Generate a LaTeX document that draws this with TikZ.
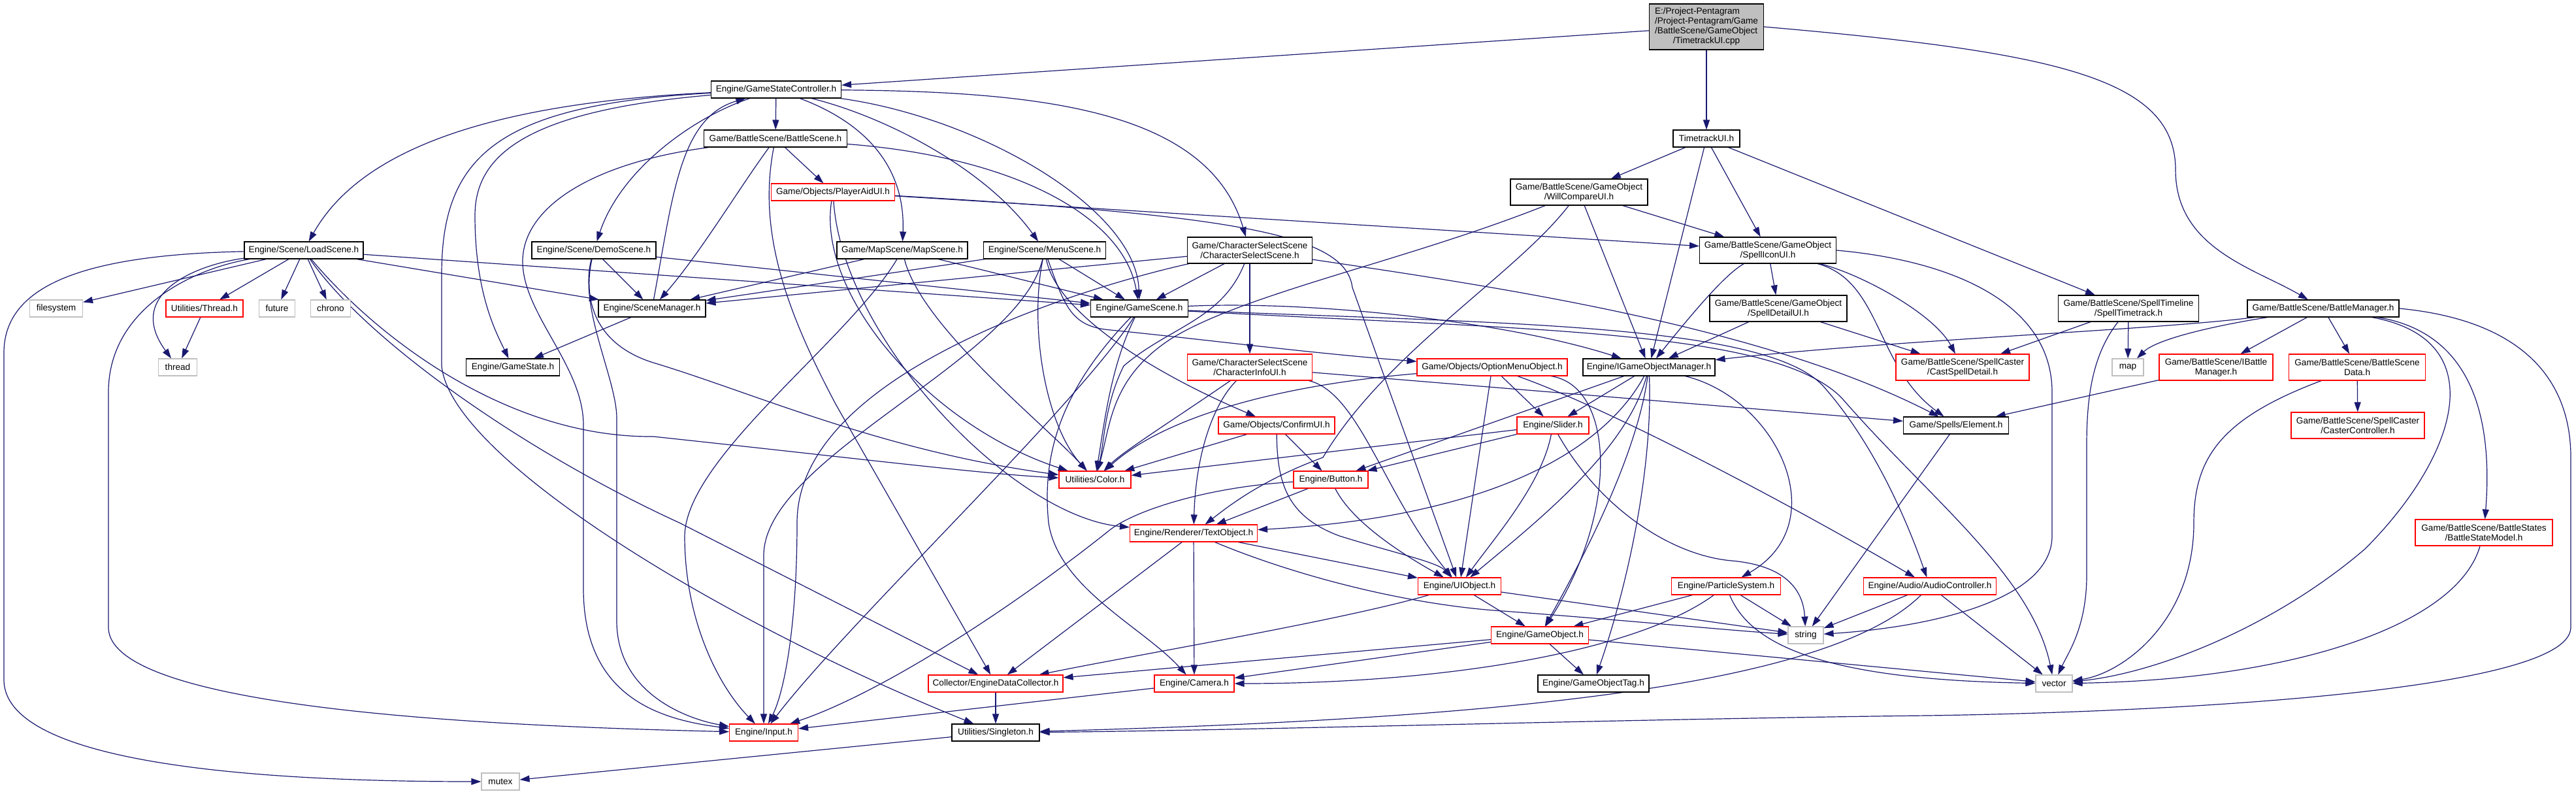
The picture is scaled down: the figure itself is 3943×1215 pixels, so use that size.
\documentclass[tikz,border=0pt]{standalone}
\usepackage{fontspec}
\setmainfont{Liberation Sans}
\usetikzlibrary{arrows.meta}
\pgfdeclarelayer{bg}
\pgfsetlayers{bg,main}
\definecolor{edgec}{HTML}{191970}
\definecolor{rootf}{HTML}{BFBFBF}
\definecolor{grayb}{HTML}{BFBFBF}
\definecolor{redb}{HTML}{FF0000}
\newcommand{\nfont}{\fontsize{13.6}{15}\selectfont}
\begin{document}
\begin{tikzpicture}[x=1pt,y=-1pt,
  blk/.style={draw=black,line width=1.1pt,fill=white,inner sep=0pt,minimum height=26pt,font=\nfont,align=center,text=black},
  rdn/.style={blk,draw=redb},
  gyn/.style={blk,draw=grayb},
  dep/.style={draw=edgec,line width=1.2pt,-{Triangle[length=15pt,width=10pt]}}]
\useasboundingbox (0,0) rectangle (3943,1215);
% ---------------- nodes
\node[blk,fill=rootf,minimum width=175pt,minimum height=70pt] (root) at (2612,41) {\begin{tabular}{@{}l@{}}E:/Project-Pentagram\\/Project-Pentagram/Game\\/BattleScene/GameObject\\\multicolumn{1}{@{}c@{}}{/TimetrackUI.cpp}\end{tabular}};
\node[blk,minimum width=102pt] (tui) at (2612,212) {TimetrackUI.h};
\node[blk,minimum width=210pt,minimum height=40pt] (wcu) at (2417,294) {Game/BattleScene/GameObject\\/WillCompareUI.h};
\node[blk,minimum width=209pt,minimum height=40pt] (siu) at (2706,383) {Game/BattleScene/GameObject\\/SpellIconUI.h};
\node[blk,minimum width=199pt] (gsc) at (1188,137) {Engine/GameStateController.h};
\node[blk,minimum width=219pt] (bs) at (1187,212) {Game/BattleScene/BattleScene.h};
\node[rdn,minimum width=189pt] (pau) at (1275,294) {Game/Objects/PlayerAidUI.h};
\node[blk,minimum width=200pt] (mapsc) at (1381,383) {Game/MapScene/MapScene.h};
\node[blk,minimum width=187pt] (menu) at (1599,383) {Engine/Scene/MenuScene.h};
\node[blk,minimum width=191pt,minimum height=40pt] (css) at (1913,383) {Game/CharacterSelectScene\\/CharacterSelectScene.h};
\node[blk,minimum width=182pt] (load) at (465,383) {Engine/Scene/LoadScene.h};
\node[blk,minimum width=190pt] (demo) at (909,383) {Engine/Scene/DemoScene.h};
\node[gyn,minimum width=81pt] (fs) at (86,472) {filesystem};
\node[rdn,minimum width=118pt] (thrh) at (313,472) {Utilities/Thread.h};
\node[gyn,minimum width=55pt] (fut) at (424,472) {future};
\node[gyn,minimum width=61pt] (chr) at (506,472) {chrono};
\node[gyn,minimum width=59pt] (thr) at (272,562) {thread};
\node[blk,minimum width=143pt] (gst) at (785,562) {Engine/GameState.h};
\node[blk,minimum width=164pt] (scm) at (998,472) {Engine/SceneManager.h};
\node[blk,minimum width=149pt] (gsn) at (1744,472) {Engine/GameScene.h};
\node[rdn,minimum width=191pt,minimum height=40pt] (cinfo) at (1913,562) {Game/CharacterSelectScene\\/CharacterInfoUI.h};
\node[rdn,minimum width=178pt] (conf) at (1954,651) {Game/Objects/ConfirmUI.h};
\node[rdn,minimum width=110pt] (col) at (1676,734) {Utilities/Color.h};
\node[rdn,minimum width=114pt] (btn) at (2037,734) {Engine/Button.h};
\node[rdn,minimum width=195pt] (txt) at (1827,816) {Engine/Renderer/TextObject.h};
\node[rdn,minimum width=230pt] (opt) at (2284,562) {Game/Objects/OptionMenuObject.h};
\node[blk,minimum width=202pt] (igom) at (2524,562) {Engine/IGameObjectManager.h};
\node[blk,minimum width=210pt,minimum height=40pt] (sdu) at (2722,472) {Game/BattleScene/GameObject\\/SpellDetailUI.h};
\node[rdn,minimum width=110pt] (sld) at (2377,651) {Engine/Slider.h};
\node[blk,minimum width=161pt] (elem) at (2994,651) {Game/Spells/Element.h};
\node[rdn,minimum width=204pt,minimum height=40pt] (csd) at (3004,562) {Game/BattleScene/SpellCaster\\/CastSpellDetail.h};
\node[blk,minimum width=215pt,minimum height=40pt] (stt) at (3258,472) {Game/BattleScene/SpellTimeline\\/SpellTimetrack.h};
\node[blk,minimum width=232pt] (bm) at (3556,472) {Game/BattleScene/BattleManager.h};
\node[gyn,minimum width=48pt] (map) at (3257,562) {map};
\node[rdn,minimum width=174pt,minimum height=40pt] (ibm) at (3392,562) {Game/BattleScene/IBattle\\Manager.h};
\node[rdn,minimum width=209pt,minimum height=40pt] (bsd) at (3608,562) {Game/BattleScene/BattleScene\\Data.h};
\node[rdn,minimum width=204pt,minimum height=40pt] (cc) at (3609,651) {Game/BattleScene/SpellCaster\\/CasterController.h};
\node[rdn,minimum width=210pt,minimum height=40pt] (bsm) at (3802,815) {Game/BattleScene/BattleStates\\/BattleStateModel.h};
\node[rdn,minimum width=127pt] (uio) at (2234,897) {Engine/UIObject.h};
\node[rdn,minimum width=167pt] (ps) at (2642,897) {Engine/ParticleSystem.h};
\node[rdn,minimum width=203pt] (audio) at (2954,897) {Engine/Audio/AudioController.h};
\node[rdn,minimum width=149pt] (gobj) at (2357,972) {Engine/GameObject.h};
\node[gyn,minimum width=54pt] (str) at (2764,972) {string};
\node[blk,minimum width=170pt] (gtag) at (2439,1046) {Engine/GameObjectTag.h};
\node[gyn,minimum width=56pt] (vec) at (3144,1046) {vector};
\node[rdn,minimum width=206pt] (edc) at (1524,1046) {Collector/EngineDataCollector.h};
\node[rdn,minimum width=122pt] (cam) at (1828,1046) {Engine/Camera.h};
\node[rdn,minimum width=105pt] (inp) at (1169,1121) {Engine/Input.h};
\node[blk,minimum width=134pt] (sgl) at (1524,1121) {Utilities/Singleton.h};
\node[gyn,minimum width=58pt] (mtx) at (766,1196) {mutex};
% ---------------- edges
\begin{pgfonlayer}{bg}
\fill[white] (0,0) rectangle (3943,1215);
% root
\draw[dep] (root) -- (gsc);
\draw[dep] (root) -- (tui);
\draw[dep] (root.east) .. controls (3150,80) and (3330,120) .. (3330,260) .. controls (3330,380) and (3450,410) .. (bm);
% timetrack
\draw[dep] (tui) -- (wcu);
\draw[dep] (tui) -- (siu);
\draw[dep] (tui) -- (igom);
\draw[dep] (tui) -- (stt);
% willcompare
\draw[dep] (wcu) -- (siu);
\draw[dep] (wcu) -- (igom);
\draw[dep] (wcu) .. controls (2150,400) and (1900,450) .. (1790,520) .. controls (1700,580) and (1700,650) .. (col);
\draw[dep] (wcu) .. controls (2320,420) and (2120,540) .. (2025,700) .. controls (1930,735) and (1880,775) .. (txt);
% spellicon
\draw[dep] (siu) -- (sdu);
\draw[dep] (siu) .. controls (2640,420) and (2590,480) .. (igom);
\draw[dep] (siu) .. controls (2880,430) and (2870,560) .. (elem);
\draw[dep] (siu) .. controls (2850,420) and (2960,480) .. (csd);
\draw[dep] (siu.east) .. controls (3000,400) and (3141,470) .. (3141,600) -- (3141,820) .. controls (3141,920) and (2950,960) .. (str);
\draw[dep] (sdu) -- (igom);
\draw[dep] (sdu) -- (csd);
% spell timetrack
\draw[dep] (stt) -- (csd);
\draw[dep] (stt) -- (map);
\draw[dep] (stt) .. controls (3205,540) and (3194,600) .. (3194,680) -- (3194,880) .. controls (3194,960) and (3165,1000) .. (vec);
% battle manager
\draw[dep] (bm) .. controls (3300,505) and (2900,520) .. (igom);
\draw[dep] (bm) .. controls (3380,500) and (3300,520) .. (map);
\draw[dep] (bm) -- (ibm);
\draw[dep] (bm) -- (bsd);
\draw[dep] (bm) .. controls (3790,510) and (3815,650) .. (bsm);
\draw[dep] (bm) .. controls (3820,520) and (3760,700) .. (3620,840) .. controls (3480,960) and (3300,1030) .. (vec);
\draw[dep] (bm.east) .. controls (3860,490) and (3935,580) .. (3935,700) -- (3935,960) .. controls (3935,1060) and (3300,1090) .. (2950,1095) .. controls (2500,1100) and (1900,1118) .. (sgl);
\draw[dep] (ibm) -- (elem);
\draw[dep] (bsd) -- (cc);
\draw[dep] (bsd) .. controls (3400,640) and (3358,700) .. (3358,800) .. controls (3358,950) and (3250,1030) .. (vec);
\draw[dep] (bsm) .. controls (3760,960) and (3500,1040) .. (vec);
\draw[dep] (elem) -- (str);
% game state controller
\draw[dep] (gsc) .. controls (700,160) and (540,250) .. (load);
\draw[dep] (gsc) .. controls (1060,180) and (950,260) .. (demo);
\draw[dep] (gsc) .. controls (1330,190) and (1386,260) .. (mapsc);
\draw[dep] (gsc) .. controls (1360,180) and (1510,260) .. (menu);
\draw[dep] (gsc) .. controls (1600,140) and (1850,170) .. (css);
\draw[dep] (gsc) .. controls (1500,180) and (1740,320) .. (gsn);
\draw[dep] (gsc) -- (bs);
\draw[dep] (gsc) .. controls (800,170) and (727,240) .. (727,330) .. controls (727,450) and (760,510) .. (gst);
\draw[dep] (gsc) .. controls (760,160) and (676,240) .. (676,420) -- (676,560) .. controls (690,700) and (1100,950) .. (sgl);
\draw[dep] (scm) .. controls (1030,300) and (1040,180) .. (gsc);
\draw[dep] (scm) -- (gst);
% battle scene
\draw[dep] (bs) -- (pau);
\draw[dep] (bs) .. controls (1130,290) and (1070,390) .. (scm);
\draw[dep] (bs) .. controls (1550,240) and (1720,330) .. (gsn);
\draw[dep] (bs) .. controls (1160,350) and (1200,470) .. (1280,620) -- (edc);
\draw[dep] (bs) .. controls (900,250) and (800,320) .. (800,400) .. controls (800,480) and (893,560) .. (893,650) -- (893,900) .. controls (893,1060) and (1000,1100) .. (inp);
% player aid
\draw[dep] (pau) -- (siu);
\draw[dep] (pau) .. controls (1900,330) and (2060,360) .. (2070,440) -- (uio);
\draw[dep] (pau) .. controls (1250,450) and (1420,650) .. (col);
\draw[dep] (pau) .. controls (1290,520) and (1550,790) .. (txt);
% load scene
\draw[dep] (load) -- (fs);
\draw[dep] (load) -- (thrh);
\draw[dep] (load) -- (fut);
\draw[dep] (load) -- (chr);
\draw[dep] (load) .. controls (300,405) and (190,450) .. (thr);
\draw[dep] (thrh) -- (thr);
\draw[dep] (load) .. controls (120,390) and (6,440) .. (6,540) -- (6,1040) .. controls (6,1170) and (400,1196) .. (mtx);
\draw[dep] (load) .. controls (300,410) and (166,470) .. (166,600) -- (166,960) .. controls (166,1090) and (800,1112) .. (inp);
\draw[dep] (load) -- (scm);
\draw[dep] (load) -- (gsn);
\draw[dep] (load) .. controls (580,520) and (780,670) .. (1000,668) .. controls (1300,700) and (1500,725) .. (col);
\draw[dep] (load) .. controls (560,520) and (800,690) .. (1040,800) -- (edc);
% demo scene
\draw[dep] (demo) -- (scm);
\draw[dep] (demo) -- (gsn);
\draw[dep] (demo) .. controls (885,470) and (944,580) .. (944,640) -- (944,950) .. controls (944,1060) and (1050,1100) .. (inp);
\draw[dep] (demo) .. controls (890,470) and (920,530) .. (1000,555) .. controls (1150,600) and (1350,690) .. (col);
% map scene
\draw[dep] (mapsc) -- (scm);
\draw[dep] (mapsc) -- (gsn);
\draw[dep] (mapsc) .. controls (1300,520) and (1050,700) .. (1048,820) .. controls (1048,950) and (1100,1050) .. (inp);
\draw[dep] (mapsc) .. controls (1410,500) and (1600,650) .. (col);
% menu scene
\draw[dep] (menu) -- (scm);
\draw[dep] (menu) -- (gsn);
\draw[dep] (menu) .. controls (1560,550) and (1169,700) .. (1169,850) -- (inp);
\draw[dep] (menu) .. controls (1575,500) and (1600,650) .. (col);
\draw[dep] (menu) .. controls (1630,470) and (1640,500) .. (1700,505) .. controls (1850,520) and (2000,540) .. (opt);
\draw[dep] (menu) .. controls (1615,470) and (1740,560) .. (conf);
% character select
\draw[dep] (css) -- (cinfo);
\draw[dep] (css) -- (scm);
\draw[dep] (css) -- (gsn);
\draw[dep] (css) .. controls (1700,430) and (1220,560) .. (1220,800) .. controls (1220,960) and (1200,1060) .. (inp);
\draw[dep] (css) .. controls (1870,490) and (1790,500) .. (1720,560) .. controls (1690,620) and (1690,680) .. (col);
\draw[dep] (css) .. controls (2300,440) and (2700,500) .. (elem);
% game scene
\draw[dep] (gsn) .. controls (2000,460) and (2300,490) .. (igom);
\draw[dep] (gsn) .. controls (2300,495) and (2700,495) .. (2790,590) .. controls (2870,680) and (2920,800) .. (audio);
\draw[dep] (gsn) .. controls (2350,505) and (2720,505) .. (2820,610) .. controls (2950,760) and (3110,880) .. (vec);
\draw[dep] (gsn) .. controls (1650,620) and (1300,950) .. (inp);
\draw[dep] (gsn) .. controls (1620,600) and (1595,700) .. (1605,800) .. controls (1620,900) and (1750,960) .. (cam);
\draw[dep] (gsn) .. controls (1700,560) and (1690,650) .. (col);
% character info
\draw[dep] (cinfo) .. controls (1800,640) and (1720,690) .. (col);
\draw[dep] (cinfo) .. controls (1855,620) and (1830,700) .. (txt);
\draw[dep] (cinfo) .. controls (2080,600) and (2120,760) .. (uio);
\draw[dep] (cinfo) -- (elem);
% confirm
\draw[dep] (conf) -- (col);
\draw[dep] (conf) -- (btn);
\draw[dep] (conf) .. controls (1955,740) and (1970,790) .. (2050,820) .. controls (2130,845) and (2200,860) .. (uio);
% option menu
\draw[dep] (opt) -- (sld);
\draw[dep] (opt) -- (uio);
\draw[dep] (opt) .. controls (2450,620) and (2720,760) .. (audio);
\draw[dep] (opt) .. controls (2470,590) and (2480,780) .. (gobj);
\draw[dep] (opt) .. controls (1950,590) and (1780,640) .. (col);
% game object manager
\draw[dep] (igom) -- (sld);
\draw[dep] (igom) -- (btn);
\draw[dep] (igom) .. controls (2460,680) and (2300,790) .. (txt);
\draw[dep] (igom) .. controls (2490,690) and (2350,800) .. (uio);
\draw[dep] (igom) .. controls (2505,700) and (2420,860) .. (gobj);
\draw[dep] (igom) .. controls (2530,720) and (2490,900) .. (gtag);
\draw[dep] (igom) .. controls (2720,610) and (2810,800) .. (ps);
% slider
\draw[dep] (sld) -- (btn);
\draw[dep] (sld) .. controls (2360,740) and (2290,820) .. (uio);
\draw[dep] (sld) .. controls (2450,780) and (2560,850) .. (2650,858) .. controls (2730,865) and (2760,900) .. (str);
\draw[dep] (sld) -- (col);
% button
\draw[dep] (btn) -- (txt);
\draw[dep] (btn) .. controls (2070,800) and (2150,850) .. (uio);
\draw[dep] (btn) .. controls (1850,745) and (1740,780) .. (1700,810) .. controls (1550,930) and (1350,1060) .. (inp);
% text object
\draw[dep] (txt) -- (uio);
\draw[dep] (txt) -- (cam);
\draw[dep] (txt) -- (edc);
\draw[dep] (txt) .. controls (1980,880) and (2150,925) .. (2300,935) .. controls (2500,950) and (2650,965) .. (str);
% ui object
\draw[dep] (uio) -- (gobj);
\draw[dep] (uio) -- (str);
\draw[dep] (uio) .. controls (2050,950) and (1750,1000) .. (edc);
% game object
\draw[dep] (gobj) -- (gtag);
\draw[dep] (gobj) -- (cam);
\draw[dep] (gobj) -- (edc);
\draw[dep] (gobj) -- (vec);
% particle system
\draw[dep] (ps) -- (gobj);
\draw[dep] (ps) -- (str);
\draw[dep] (ps) .. controls (2680,990) and (2800,1040) .. (vec);
\draw[dep] (ps) .. controls (2500,1000) and (2200,1046) .. (cam);
% audio
\draw[dep] (audio) -- (str);
\draw[dep] (audio) -- (vec);
\draw[dep] (audio) .. controls (2800,1050) and (2300,1100) .. (sgl);
% bottom
\draw[dep] (edc) -- (sgl);
\draw[dep] (cam) -- (inp);
\draw[dep] (sgl) -- (mtx);
\end{pgfonlayer}
\end{tikzpicture}
\end{document}
